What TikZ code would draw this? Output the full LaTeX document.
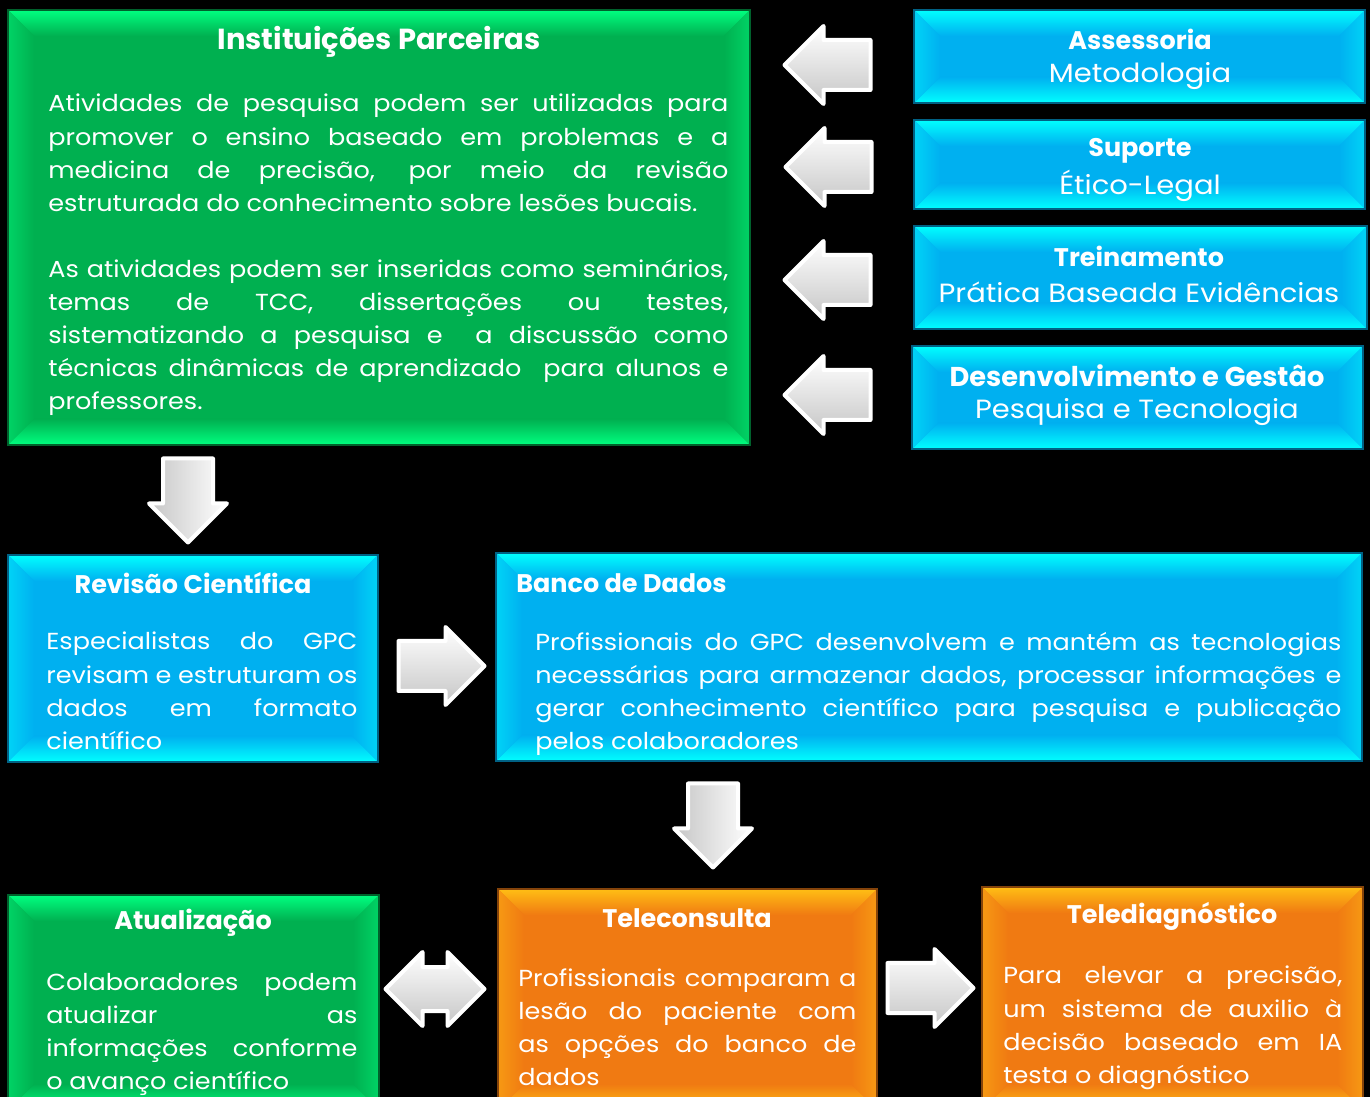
\documentclass[tikz,border=0pt]{standalone}
\usepackage{fontspec}
\setmainfont{Poppins}
\newfontfamily\widefont[FakeStretch=1.1]{Poppins}
\usetikzlibrary{shapes.arrows,fit}
\definecolor{panelgreen}{RGB}{0,176,80}
\definecolor{panelgreenhi}{RGB}{0,255,128}
\definecolor{panelblue}{RGB}{0,176,240}
\definecolor{panelbluehi}{RGB}{0,255,255}
\definecolor{panelorange}{RGB}{240,122,18}
\definecolor{panelorangehi}{RGB}{255,190,20}
\newcommand{\pxu}{0.02cm}
\tikzset{
  panel/.style 2 args={inner sep=0pt, fill=#1, draw=#1!55!black, line width=0.6pt,
    path picture={
      \path (path picture bounding box.north west) coordinate (p-nw)
            (path picture bounding box.north east) coordinate (p-ne)
            (path picture bounding box.south west) coordinate (p-sw)
            (path picture bounding box.south east) coordinate (p-se);
      \shade[top color=#2, bottom color=#1] (p-nw) -- (p-ne) -- ([shift={(-26,26)}]p-ne) -- ([shift={(26,26)}]p-nw) -- cycle;
      \shade[top color=#1, bottom color=#2] (p-sw) -- (p-se) -- ([shift={(-26,-26)}]p-se) -- ([shift={(26,-26)}]p-sw) -- cycle;
      \shade[left color=#2!45!#1, right color=#1] (p-nw) -- ([shift={(26,26)}]p-nw) -- ([shift={(26,-26)}]p-sw) -- (p-sw) -- cycle;
      \shade[left color=#1, right color=#2!45!#1] (p-ne) -- ([shift={(-26,26)}]p-ne) -- ([shift={(-26,-26)}]p-se) -- (p-se) -- cycle;
    }},
  headtext/.style={text=white, inner sep=0pt, font=\bfseries\fontsize{14.5}{17}\selectfont},
  subtext/.style={text=white, inner sep=0pt, font=\widefont\fontsize{15}{17}\selectfont},
  bodytext/.style={text=white, inner sep=0pt, align=justify, anchor=north west,
    font=\widefont\fontsize{13.2}{18.8}\selectfont},
  blockarrow/.style={draw=white, line width=4*\pxu, line join=round, inner sep=23*\pxu},
  harrow/.style={blockarrow, single arrow, single arrow head extend=14*\pxu,
    top color=white, bottom color=gray!45, minimum height=86*\pxu},
  varrow/.style={blockarrow, single arrow, single arrow head extend=14*\pxu, shape border rotate=270,
    left color=gray!45, right color=white, minimum height=84*\pxu},
}
\begin{document}
\begin{tikzpicture}[x=0.02cm, y=-0.02cm]
  \fill[black] (0,0) rectangle (1370,1097);
  \useasboundingbox (0,0) rectangle (1370,1097);

  % top row
  \node[panel={panelgreen}{panelgreenhi}, fit={(8,10) (750,445)}] (inst) {};
  \node[panel={panelblue}{panelbluehi}, fit={(914,10) (1365,103)}] (assess) {};
  \node[panel={panelblue}{panelbluehi}, fit={(914,120) (1365,209)}] (suporte) {};
  \node[panel={panelblue}{panelbluehi}, fit={(914,226) (1367,329)}] (treino) {};
  \node[panel={panelblue}{panelbluehi}, fit={(912,346) (1363,449)}] (gestao) {};

  \node[headtext, font=\bfseries\fontsize{16.5}{20}\selectfont] (insttitle) at (379,42) {Instituições Parceiras};
  \node[bodytext, text width=680*\pxu] (instbody) at (48,94) {%
    Atividades de pesquisa podem ser utilizadas para\linebreak
    promover o ensino baseado em problemas e a\linebreak
    medicina de precisão, por meio da revisão\linebreak
    estruturada do conhecimento sobre lesões bucais.\\[18.8pt]
    As atividades podem ser inseridas como seminários,\linebreak
    temas de TCC, dissertações ou testes,\linebreak
    sistematizando a pesquisa e \ a discussão como\linebreak
    técnicas dinâmicas de aprendizado \ para alunos e\linebreak
    professores.};

  \node[headtext] (assesstitle) at (1140,39) {Assessoria};
  \node[subtext] (assesssub) at (1140,76) {Metodologia};
  \node[headtext] (suportetitle) at (1140,151) {Suporte};
  \node[subtext] (suportesub) at (1140,186) {Ético-Legal};
  \node[headtext] (treinotitle) at (1139,256) {Treinamento};
  \node[subtext] (treinosub) at (1139,292) {Prática Baseada Evidências};
  \node[headtext, font=\bfseries\fontsize{15.5}{17}\selectfont] (gestaotitle) at (1137,376) {Desenvolvimento e Gestâo};
  \node[subtext] (gestaosub) at (1137,412) {Pesquisa e Tecnologia};

  \node[harrow, shape border rotate=180] (arrowa) at (840,65) {};
  \node[harrow, shape border rotate=180] (arrowb) at (841,167) {};
  \node[harrow, shape border rotate=180] (arrowc) at (840,280) {};
  \node[harrow, shape border rotate=180] (arrowd) at (840,395) {};

  % middle row
  \node[varrow] (arrowe) at (188,488) {};
  \node[panel={panelblue}{panelbluehi}, fit={(8,555) (378,762)}] (revisao) {};
  \node[panel={panelblue}{panelbluehi}, fit={(496,553) (1362,761)}] (banco) {};
  \node[harrow] (arrowf) at (429,666) {};

  \node[headtext] (revisaotitle) at (193,583) {Revisão Científica};
  \node[bodytext, text width=311*\pxu] (revisaobody) at (46,632) {%
    Especialistas do GPC\linebreak
    revisam e estruturam os\linebreak
    dados em formato\linebreak
    científico};
  \node[headtext, anchor=west] (bancotitle) at (516,583) {Banco de Dados};
  \node[bodytext, text width=806*\pxu] (bancobody) at (535,632) {%
    Profissionais do GPC desenvolvem e mantém as tecnologias\linebreak
    necessárias para armazenar dados, processar informações e\linebreak
    gerar conhecimento científico para pesquisa e publicação\linebreak
    pelos colaboradores};

  % bottom row
  \node[varrow] (arrowg) at (713,813) {};
  \node[panel={panelgreen}{panelgreenhi}, fit={(8,895) (379,1110)}] (atual) {};
  \node[panel={panelorange}{panelorangehi}, fit={(498,889) (877,1110)}] (telecons) {};
  \node[panel={panelorange}{panelorangehi}, fit={(982,887) (1363,1110)}] (telediag) {};
  \node[blockarrow, double arrow, double arrow head extend=15*\pxu, inner ysep=20*\pxu,
    top color=white, bottom color=gray!45, minimum height=99*\pxu] (arrowh) at (435,989) {};
  \node[harrow] (arrowi) at (918,988) {};

  \node[headtext] (atualtitle) at (193,923) {Atualização};
  \node[bodytext, text width=311*\pxu] (atualbody) at (46,973) {%
    Colaboradores podem\linebreak
    atualizar as\linebreak
    informações conforme\linebreak
    o avanço científico};
  \node[headtext] (teleconstitle) at (687,918) {Teleconsulta};
  \node[bodytext, text width=338*\pxu] (teleconsbody) at (518,968) {%
    Profissionais comparam a\linebreak
    lesão do paciente com\linebreak
    as opções do banco de\linebreak
    dados};
  \node[headtext] (telediagtitle) at (1172,916) {Telediagnóstico};
  \node[bodytext, text width=339*\pxu] (telediagbody) at (1003,966) {%
    Para elevar a precisão,\linebreak
    um sistema de auxilio à\linebreak
    decisão baseado em IA\linebreak
    testa o diagnóstico};
\end{tikzpicture}
\end{document}
